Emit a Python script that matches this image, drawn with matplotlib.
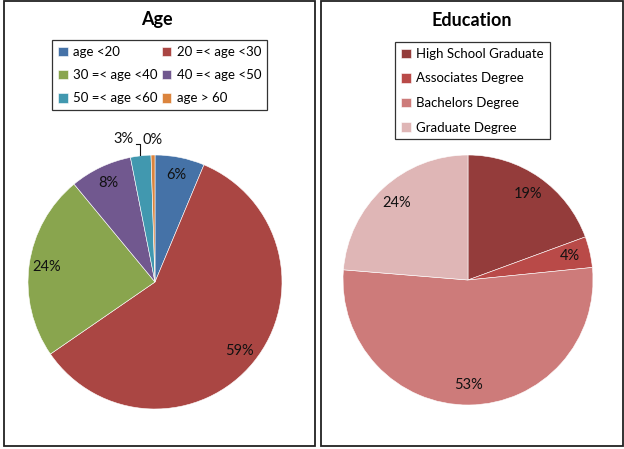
import matplotlib.pyplot as plt
from matplotlib.patches import Rectangle

plt.rcParams['font.family'] = ['Lato', 'DejaVu Sans']

# data
age_labels = ["age <20", "20 =< age <30", "30 =< age <40",
              "40 =< age <50", "50 =< age <60", "age > 60"]
age_values = [6.3, 59.1, 23.6, 7.9, 2.6, 0.5]
age_colors = ["#4572A7", "#AA4643", "#89A54E", "#71588F", "#4198AF", "#DB843D"]

edu_labels = ["High School Graduate", "Associates Degree",
              "Bachelors Degree", "Graduate Degree"]
edu_values = [19.4, 4.0, 52.9, 23.7]
edu_colors = ["#943C3B", "#B94A48", "#CD7B7A", "#DFB6B6"]

W, H = 624, 449
fig = plt.figure(figsize=(W / 100, H / 100), dpi=100)
ax = fig.add_axes([0, 0, 1, 1])

# panel frames
for x0, x1 in [(4, 315), (321, 623)]:
    ax.add_patch(Rectangle((x0, H - 446), x1 - x0, 445, fill=False,
                           edgecolor="#222222", linewidth=1.3))

# titles
ax.text(157, H - 20, "Age", ha="center", va="center", fontsize=13, fontweight="bold")
ax.text(472, H - 20, "Education", ha="center", va="center", fontsize=13, fontweight="bold")

# Age pie
age_wedges, _, age_txt = ax.pie(age_values, colors=age_colors, startangle=90,
                                counterclock=False, center=(155, H - 282), radius=127,
                                autopct="%1.0f%%", pctdistance=0.86,
                                textprops=dict(fontsize=10.5, color="#111111"),
                                wedgeprops=dict(linewidth=0.4, edgecolor="white"),
                                frame=True)
# small slices: labels outside
age_txt[4].set_position((123, H - 139))
age_txt[5].set_position((153, H - 140))
ax.plot([136, 140, 140], [H - 144, H - 144, H - 155], color="#111111", lw=0.8)

# Education pie
edu_wedges, _, edu_txt = ax.pie(edu_values, colors=edu_colors, startangle=90,
                                counterclock=False, center=(468, H - 280), radius=125,
                                autopct="%1.0f%%", pctdistance=0.84,
                                textprops=dict(fontsize=10.5, color="#111111"),
                                wedgeprops=dict(linewidth=0.4, edgecolor="white"),
                                frame=True)
ax.set_xlim(0, W)
ax.set_ylim(0, H)
ax.set_aspect("equal")
ax.axis("off")

leg_kw = dict(fontsize=9.5, frameon=True, fancybox=False, handlelength=0.75,
              handleheight=0.75, handletextpad=0.4, borderpad=0.45,
              borderaxespad=0)
# row-major order for the two-column legend
order = [0, 2, 4, 1, 3, 5]
leg1 = fig.legend([age_wedges[i] for i in order], [age_labels[i] for i in order],
                  ncol=2, loc="upper left",
                  bbox_to_anchor=(52 / W, 1 - 40 / H), columnspacing=0.3,
                  labelspacing=0.85, **leg_kw)
leg1.get_frame().set_edgecolor("black")
leg1.get_frame().set_linewidth(0.9)

leg2 = fig.legend(edu_wedges, edu_labels, ncol=1, loc="upper left",
                  bbox_to_anchor=(395 / W, 1 - 42 / H),
                  labelspacing=0.95, **leg_kw)
leg2.get_frame().set_edgecolor("black")
leg2.get_frame().set_linewidth(0.9)

fig.savefig("out.png", dpi=100)
